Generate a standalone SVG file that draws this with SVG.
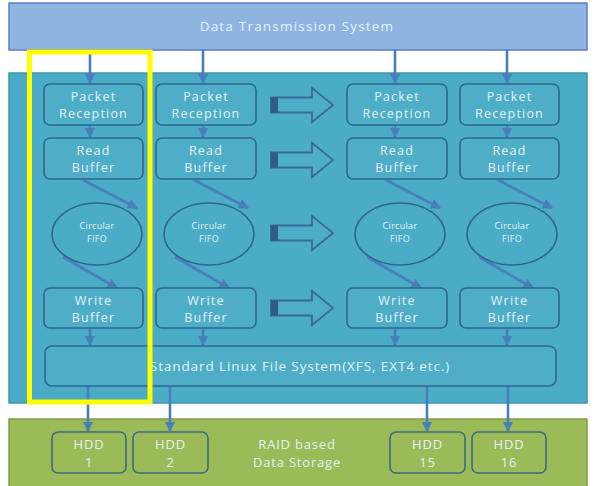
<svg xmlns="http://www.w3.org/2000/svg" width="594" height="486" viewBox="0 0 594 486">
<defs>
<marker id="ah" viewBox="0 0 10 10" refX="9" refY="5" markerWidth="4" markerHeight="4" orient="auto" markerUnits="strokeWidth">
<path d="M0,0 L10,5 L0,10 z" fill="#4a7ebb"/>
</marker>
<style>
.box{fill:#4eaec8;stroke:#2e6690;stroke-width:1.6}
.ell{fill:none;stroke:#2e6690;stroke-width:1.6}
.hdd{fill:#9bbb59;stroke:#3f6a82;stroke-width:1.6}
.t{font-family:"Open Sans","Noto Sans",sans-serif;fill:#e4f2f6;text-anchor:middle}
.tb{font-size:12.5px;letter-spacing:1.2px}
.ts{font-size:9px;letter-spacing:0.3px}
.tm{font-size:13px;letter-spacing:0.8px}
.c{stroke:#4a7ebb;stroke-width:2.6;fill:none;marker-end:url(#ah)}
.ha{fill:#4eaec8;stroke:#3a6a9a;stroke-width:1.8}
.hd{fill:#2f5a8a}
</style>
</defs>
<rect x="0" y="0" width="594" height="486" fill="#ffffff"/>
<g id="dts">
<rect x="9" y="3" width="578" height="47" fill="#8fb4e2" stroke="#5b7fbf" stroke-width="1.5"/>
<text class="t" x="297" y="31" style="font-size:13.5px;letter-spacing:1.2px">Data Transmission System</text>
</g>
<g id="panel">
<rect x="9" y="73" width="578" height="330" fill="#4aacc6" stroke="#3f98b0" stroke-width="1.5"/>
</g>
<g id="storage">
<rect x="9" y="419" width="578" height="70" fill="#9bbb59" stroke="#7f9f45" stroke-width="1.5"/>
<text class="t tm" x="297" y="449">RAID based</text>
<text class="t tm" x="297" y="467">Data Storage</text>
</g>
<g id="connectors">
<path class="c" d="M90,50 V83"/>
<path class="c" d="M203,50 V83"/>
<path class="c" d="M395,50 V83"/>
<path class="c" d="M507,50 V83"/>
<path class="c" d="M90,125 V137"/>
<path class="c" d="M203,125 V137"/>
<path class="c" d="M395,125 V137"/>
<path class="c" d="M507,125 V137"/>
<path class="c" d="M83,180 L137,208"/>
<path class="c" d="M194,180 L248,208"/>
<path class="c" d="M386,180 L440,208"/>
<path class="c" d="M498,180 L552,208"/>
<path class="c" d="M63,257 L117,288"/>
<path class="c" d="M175,257 L229,288"/>
<path class="c" d="M367,257 L421,288"/>
<path class="c" d="M479,257 L533,288"/>
<path class="c" d="M90,328 V345"/>
<path class="c" d="M203,328 V345"/>
<path class="c" d="M395,328 V345"/>
<path class="c" d="M507,328 V345"/>
<path class="c" d="M88,386 V431"/>
<path class="c" d="M170,386 V431"/>
<path class="c" d="M427,386 V431"/>
<path class="c" d="M508,386 V431"/>
</g>
<g id="hollow-arrows">
<polygon class="ha" points="271,97.5 312,97.5 312,88 333,105 312,122 312,112.5 271,112.5"/>
<rect class="hd" x="271" y="97.5" width="7" height="15"/>
<polygon class="ha" points="271,152.5 312,152.5 312,143 333,160 312,177 312,167.5 271,167.5"/>
<rect class="hd" x="271" y="152.5" width="7" height="15"/>
<polygon class="ha" points="271,225.5 312,225.5 312,216 333,233 312,250 312,240.5 271,240.5"/>
<rect class="hd" x="271" y="225.5" width="7" height="15"/>
<polygon class="ha" points="271,300.5 312,300.5 312,291 333,308 312,325 312,315.5 271,315.5"/>
<rect class="hd" x="271" y="300.5" width="7" height="15"/>
</g>
<g id="pr1"><rect class="box" x="44" y="84" width="99" height="41" rx="6"/><text class="t tb" x="93.5" y="100.5">Packet</text><text class="t tb" x="93.5" y="118">Reception</text></g>
<g id="pr2"><rect class="box" x="156" y="84" width="100" height="41" rx="6"/><text class="t tb" x="206" y="100.5">Packet</text><text class="t tb" x="206" y="118">Reception</text></g>
<g id="pr3"><rect class="box" x="347" y="84" width="100" height="41" rx="6"/><text class="t tb" x="397" y="100.5">Packet</text><text class="t tb" x="397" y="118">Reception</text></g>
<g id="pr4"><rect class="box" x="460" y="84" width="99" height="41" rx="6"/><text class="t tb" x="509.5" y="100.5">Packet</text><text class="t tb" x="509.5" y="118">Reception</text></g>
<g id="rb1"><rect class="box" x="44" y="138" width="99" height="41" rx="6"/><text class="t tb" x="93.5" y="154.5">Read</text><text class="t tb" x="93.5" y="172">Buffer</text></g>
<g id="rb2"><rect class="box" x="156" y="138" width="100" height="41" rx="6"/><text class="t tb" x="206" y="154.5">Read</text><text class="t tb" x="206" y="172">Buffer</text></g>
<g id="rb3"><rect class="box" x="347" y="138" width="100" height="41" rx="6"/><text class="t tb" x="397" y="154.5">Read</text><text class="t tb" x="397" y="172">Buffer</text></g>
<g id="rb4"><rect class="box" x="460" y="138" width="99" height="41" rx="6"/><text class="t tb" x="509.5" y="154.5">Read</text><text class="t tb" x="509.5" y="172">Buffer</text></g>
<g id="fifo1"><ellipse class="ell" cx="97" cy="234" rx="45" ry="31"/><text class="t ts" x="97" y="229">Circular</text><text class="t ts" x="97" y="242">FIFO</text></g>
<g id="fifo2"><ellipse class="ell" cx="209" cy="234" rx="45" ry="31"/><text class="t ts" x="209" y="229">Circular</text><text class="t ts" x="209" y="242">FIFO</text></g>
<g id="fifo3"><ellipse class="ell" cx="400" cy="234" rx="45" ry="31"/><text class="t ts" x="400" y="229">Circular</text><text class="t ts" x="400" y="242">FIFO</text></g>
<g id="fifo4"><ellipse class="ell" cx="512" cy="234" rx="45" ry="31"/><text class="t ts" x="512" y="229">Circular</text><text class="t ts" x="512" y="242">FIFO</text></g>
<g id="wb1"><rect class="box" x="44" y="288" width="99" height="40" rx="6"/><text class="t tb" x="93.5" y="304.5">Write</text><text class="t tb" x="93.5" y="322">Buffer</text></g>
<g id="wb2"><rect class="box" x="156" y="288" width="100" height="40" rx="6"/><text class="t tb" x="206" y="304.5">Write</text><text class="t tb" x="206" y="322">Buffer</text></g>
<g id="wb3"><rect class="box" x="347" y="288" width="100" height="40" rx="6"/><text class="t tb" x="397" y="304.5">Write</text><text class="t tb" x="397" y="322">Buffer</text></g>
<g id="wb4"><rect class="box" x="460" y="288" width="99" height="40" rx="6"/><text class="t tb" x="509.5" y="304.5">Write</text><text class="t tb" x="509.5" y="322">Buffer</text></g>
<g id="fs"><rect class="box" x="45" y="346" width="511" height="40" rx="7"/><text class="t" x="300" y="371" style="font-size:13.5px;letter-spacing:0.9px">Standard Linux File System(XFS, EXT4 etc.)</text></g>
<g id="hdd1"><rect class="hdd" x="52" y="432" width="74" height="41" rx="6"/><text class="t tm" x="89" y="449">HDD</text><text class="t tm" x="89" y="467">1</text></g>
<g id="hdd2"><rect class="hdd" x="133" y="432" width="75" height="41" rx="6"/><text class="t tm" x="170.5" y="449">HDD</text><text class="t tm" x="170.5" y="467">2</text></g>
<g id="hdd15"><rect class="hdd" x="390" y="432" width="75" height="41" rx="6"/><text class="t tm" x="427.5" y="449">HDD</text><text class="t tm" x="427.5" y="467">15</text></g>
<g id="hdd16"><rect class="hdd" x="472" y="432" width="74" height="41" rx="6"/><text class="t tm" x="509" y="449">HDD</text><text class="t tm" x="509" y="467">16</text></g>
<g id="highlight"><rect x="29.5" y="52" width="120.5" height="350" fill="none" stroke="#ffff00" stroke-width="5"/></g>
</svg>
